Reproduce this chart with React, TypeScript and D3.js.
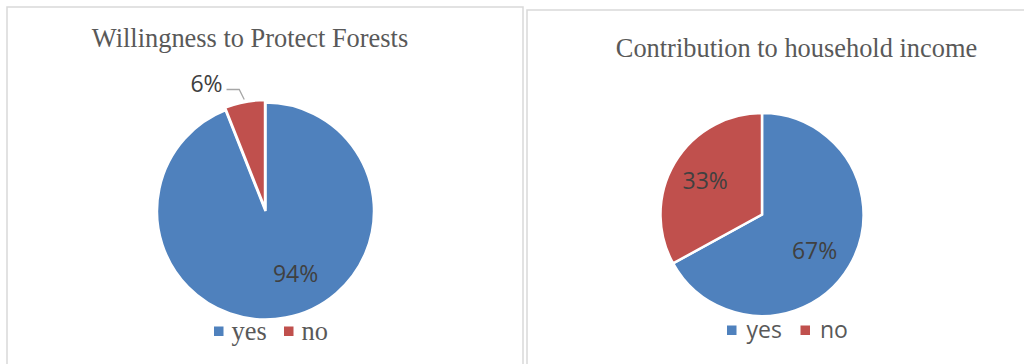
import React from "react";
import * as d3 from "d3";

const categories = ["yes", "no"];
const willingnessValues = [94, 6];
const incomeValues = [67, 33];
const titles = ["Willingness to Protect Forests", "Contribution to household income"];

const colors = ["#4F81BD", "#C0504D"];
const SERIF = "'Liberation Serif', 'Times New Roman', serif";
const SANS = "'Open Sans', 'Liberation Sans', Arial, sans-serif";

type PieCfg = {
  values: number[];
  title: string;
  panel: { x: number; y: number; w: number };
  cx: number;
  cy: number;
  r: number;
  titleX: number;
  titleY: number;
  legendFont: string;
  legendX: number;
  legendY: number;
  legendGap: number;
  explode: number[];
  labelMode: ("in" | "out")[];
  labelAngleShift: number[];
  labelR: number[];
};

const pies: PieCfg[] = [
  {
    values: willingnessValues,
    title: titles[0],
    panel: { x: 7, y: 7, w: 516 },
    cx: 265.5,
    cy: 211,
    r: 108.5,
    titleX: 250,
    titleY: 47,
    legendFont: SERIF,
    legendX: 214,
    legendY: 331,
    legendGap: 70,
    explode: [0, 2.5],
    labelMode: ["in", "out"],
    labelAngleShift: [-0.26, 0],
    labelR: [0.64, 0],
  },
  {
    values: incomeValues,
    title: titles[1],
    panel: { x: 527, y: 10, w: 520 },
    cx: 762,
    cy: 214.5,
    r: 101.5,
    titleX: 796.5,
    titleY: 57,
    legendFont: SANS,
    legendX: 727,
    legendY: 330,
    legendGap: 73.5,
    explode: [0, 0],
    labelMode: ["in", "in"],
    labelAngleShift: [0.07, 0],
    labelR: [0.63, 0.65],
  },
];

function Pie({ cfg }: { cfg: PieCfg }) {
  const total = d3.sum(cfg.values);
  const arcs = d3
    .pie<number>()
    .sort(null)
    .value((d) => d)(cfg.values);
  const arc = d3.arc<d3.PieArcDatum<number>>().innerRadius(0).outerRadius(cfg.r);
  return (
    <g>
      <path
        d={`M${cfg.panel.x},364 V${cfg.panel.y} H${cfg.panel.x + cfg.panel.w} V364`}
        fill="none"
        stroke="#d9d9d9"
        strokeWidth={1.5}
      />
      <text
        x={cfg.titleX}
        y={cfg.titleY}
        textAnchor="middle"
        fontFamily={SERIF}
        fontSize={26.4}
        fill="#595959"
      >
        {cfg.title}
      </text>
      <g transform={`translate(${cfg.cx},${cfg.cy})`}>
        {arcs.map((a, i) => {
          const mid = (a.startAngle + a.endAngle) / 2;
          const ex = cfg.explode[i];
          return (
            <path
              key={i}
              d={arc(a) || ""}
              fill={colors[i]}
              stroke="#fff"
              strokeWidth={2.5}
              strokeLinejoin="miter"
              transform={`translate(${ex * Math.sin(mid)},${-ex * Math.cos(mid)})`}
            />
          );
        })}
        {arcs.map((a, i) => {
          const pct = `${Math.round((a.value / total) * 100)}%`;
          const mid = (a.startAngle + a.endAngle) / 2 + cfg.labelAngleShift[i];
          if (cfg.labelMode[i] === "in") {
            const lr = cfg.r * cfg.labelR[i];
            return (
              <text
                key={"l" + i}
                x={lr * Math.sin(mid)}
                y={-lr * Math.cos(mid)}
                dy="0.36em"
                textAnchor="middle"
                fontFamily={SANS}
                fontSize={23}
                fill="#404040"
              >
                {pct}
              </text>
            );
          }
          const p0x = (cfg.r + 5) * Math.sin(mid);
          const p0y = -(cfg.r + 5) * Math.cos(mid);
          const ex1 = p0x - 5;
          const ey1 = p0y - 10;
          const ex2 = ex1 - 12.7;
          return (
            <g key={"l" + i}>
              <polyline
                points={`${p0x},${p0y} ${ex1},${ey1} ${ex2},${ey1}`}
                fill="none"
                stroke="#a6a6a6"
                strokeWidth={1.3}
              />
              <text
                x={ex2 - 4}
                y={ey1 - 6}
                dy="0.36em"
                textAnchor="end"
                fontFamily={SANS}
                fontSize={23}
                fill="#404040"
              >
                {pct}
              </text>
            </g>
          );
        })}
      </g>
      {categories.map((c, i) => (
        <g key={c} transform={`translate(${cfg.legendX + i * cfg.legendGap},${cfg.legendY})`}>
          <rect x={0} y={-4.5} width={9.5} height={9.5} fill={colors[i]} />
          <text
            x={cfg.legendFont === SERIF ? 17.5 : 19.5}
            y={0}
            dy="0.33em"
            fontFamily={cfg.legendFont}
            fontSize={cfg.legendFont === SERIF ? 26.4 : 23}
            fill="#595959"
          >
            {c}
          </text>
        </g>
      ))}
    </g>
  );
}

export default function App() {
  return (
    <svg
      width={1024}
      height={364}
      style={{ position: "absolute", left: 0, top: 0, background: "#fff" }}
    >
      <rect x={0} y={0} width={1024} height={364} fill="#fff" />
      {pies.map((p, i) => (
        <Pie key={i} cfg={p} />
      ))}
    </svg>
  );
}
